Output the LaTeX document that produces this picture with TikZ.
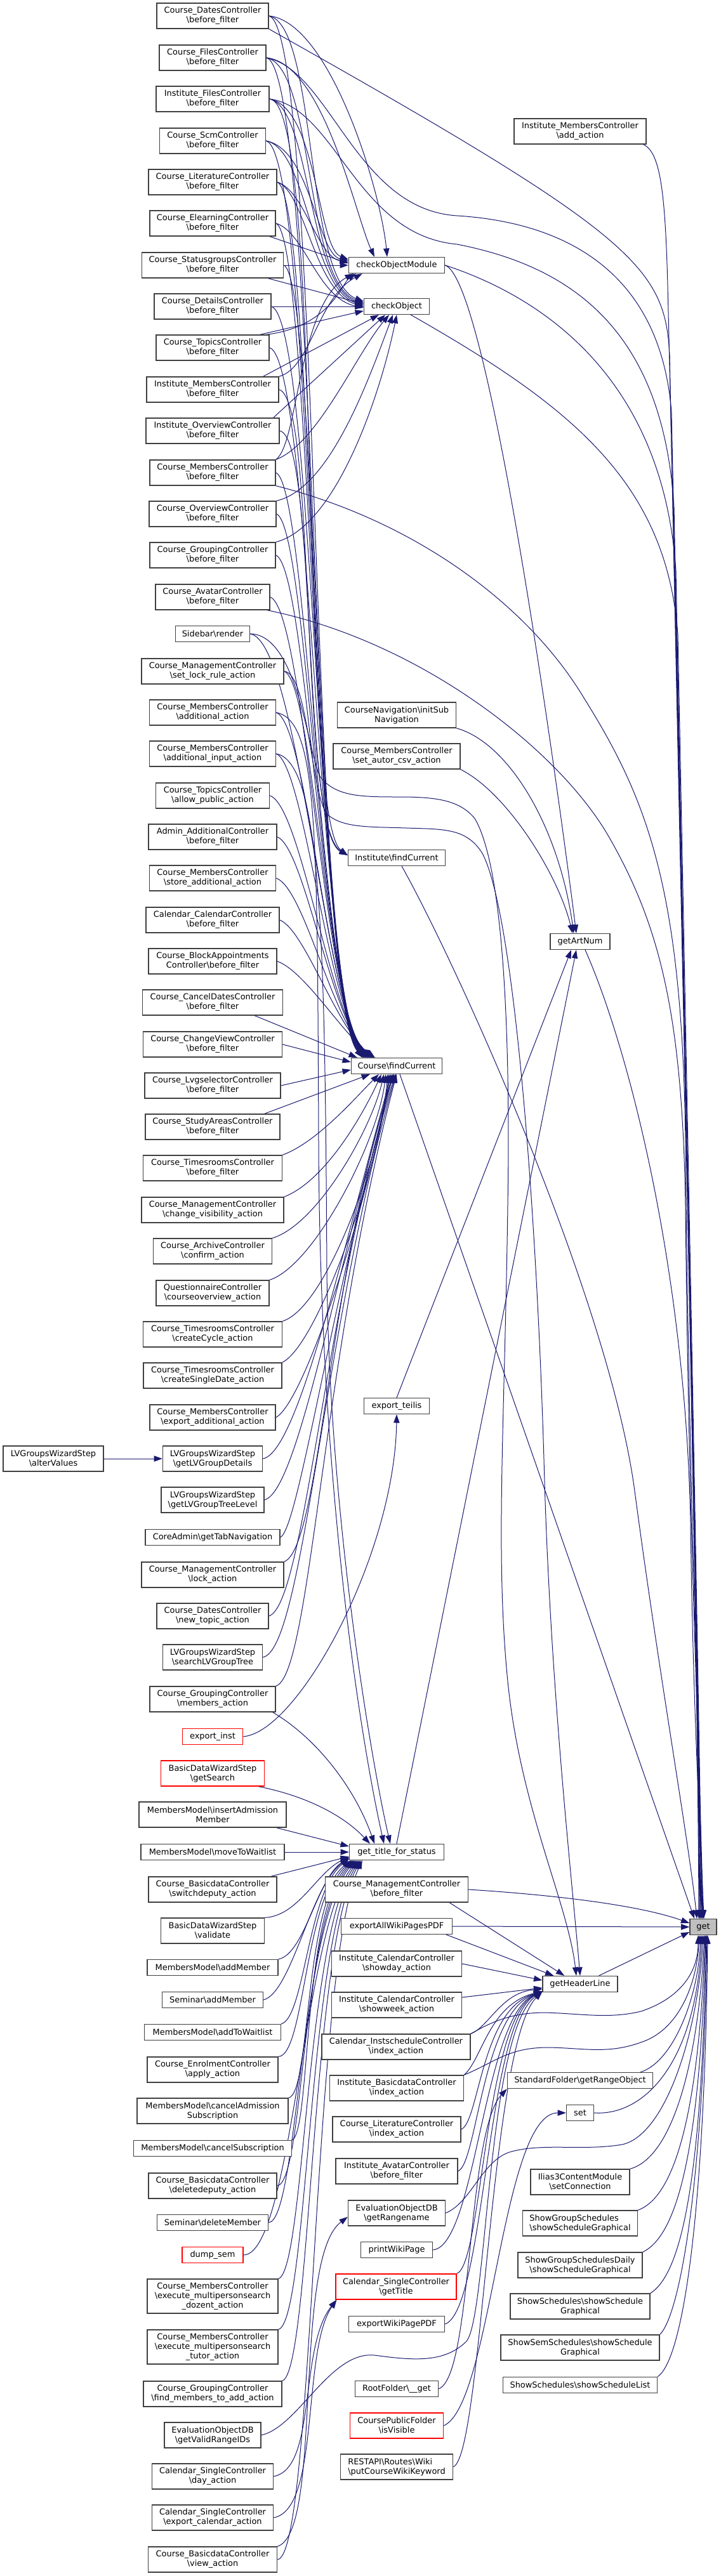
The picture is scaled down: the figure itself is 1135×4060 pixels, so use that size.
\documentclass[tikz,border=0pt]{standalone}
\usepackage{fontspec}
\setmainfont{DejaVu Sans}
\usetikzlibrary{arrows.meta,calc}
\definecolor{edgec}{HTML}{191970}
\definecolor{nodeb}{HTML}{404040}
\definecolor{getf}{HTML}{BFBFBF}
\newcommand\bsl{\textbackslash}
\newcommand\nodefont{\fontsize{9.7pt}{11.3pt}\selectfont}
\pgfdeclarelayer{bg}
\pgfsetlayers{bg,main}
\tikzset{
  box/.style={draw=nodeb, fill=white, line width=1pt, inner sep=0pt, align=center, font=\nodefont, text=black},
  rbox/.style={box, draw=red},
  W/.style={minimum width=#1*0.75pt},
  hone/.style={minimum height=18.75pt},
  htwo/.style={minimum height=30pt},
  hthree/.style={minimum height=40.5pt},
  ed/.style={draw=edgec, line width=0.75pt, -{Triangle[length=10pt,width=7pt]}},
}
\begin{document}
\begin{tikzpicture}[x=0.75pt,y=-0.75pt]
\useasboundingbox (0,0) rectangle (1135,4060);
% ---------- left column ----------
\node[box,W=176,htwo] (L1) at (335,25) {Course\_DatesController\\\bsl before\_filter};
\node[box,W=168,htwo] (L2) at (335,91) {Course\_FilesController\\\bsl before\_filter};
\node[box,W=178,htwo] (L3) at (335,156) {Institute\_FilesController\\\bsl before\_filter};
\node[box,W=167,htwo] (L4) at (335,222) {Course\_ScmController\\\bsl before\_filter};
\node[box,W=202,htwo] (L5) at (335,287) {Course\_LiteratureController\\\bsl before\_filter};
\node[box,W=198,htwo] (L6) at (335,352) {Course\_ElearningController\\\bsl before\_filter};
\node[box,W=223,htwo] (L7) at (335,418) {Course\_StatusgroupsController\\\bsl before\_filter};
\node[box,W=184,htwo] (L8) at (335,483) {Course\_DetailsController\\\bsl before\_filter};
\node[box,W=178,htwo] (L9) at (335,548) {Course\_TopicsController\\\bsl before\_filter};
\node[box,W=208,htwo] (L10) at (335,614) {Institute\_MembersController\\\bsl before\_filter};
\node[box,W=210,htwo] (L11) at (335,679) {Institute\_OverviewController\\\bsl before\_filter};
\node[box,W=198,htwo] (L12) at (335,745) {Course\_MembersController\\\bsl before\_filter};
\node[box,W=200,htwo] (L13) at (335,810) {Course\_OverviewController\\\bsl before\_filter};
\node[box,W=198,htwo] (L14) at (335,875) {Course\_GroupingController\\\bsl before\_filter};
\node[box,W=180,htwo] (L15) at (335,941) {Course\_AvatarController\\\bsl before\_filter};
\node[box,W=117,hone] (L16) at (335,999) {Sidebar\bsl render};
\node[box,W=224,htwo] (L17) at (335,1058) {Course\_ManagementController\\\bsl set\_lock\_rule\_action};
\node[box,W=199,htwo] (L18) at (335,1123) {Course\_MembersController\\\bsl additional\_action};
\node[box,W=199,htwo] (L19) at (335,1188) {Course\_MembersController\\\bsl additional\_input\_action};
\node[box,W=179,htwo] (L20) at (335,1254) {Course\_TopicsController\\\bsl allow\_public\_action};
\node[box,W=202,htwo] (L21) at (335,1319) {Admin\_AdditionalController\\\bsl before\_filter};
\node[box,W=199,htwo] (L22) at (335,1384) {Course\_MembersController\\\bsl store\_additional\_action};
\node[box,W=210,htwo] (L23) at (335,1450) {Calendar\_CalendarController\\\bsl before\_filter};
\node[box,W=202,htwo] (L24) at (335,1515) {Course\_BlockAppointments\\Controller\bsl before\_filter};
\node[box,W=221,htwo] (L25) at (335,1580) {Course\_CancelDatesController\\\bsl before\_filter};
\node[box,W=219,htwo] (L26) at (335,1646) {Course\_ChangeViewController\\\bsl before\_filter};
\node[box,W=214,htwo] (L27) at (335,1711) {Course\_LvgselectorController\\\bsl before\_filter};
\node[box,W=212,htwo] (L28) at (335,1776) {Course\_StudyAreasController\\\bsl before\_filter};
\node[box,W=219,htwo] (L29) at (335,1841) {Course\_TimesroomsController\\\bsl before\_filter};
\node[box,W=224,htwo] (L30) at (335,1907) {Course\_ManagementController\\\bsl change\_visibility\_action};
\node[box,W=187,htwo] (L31) at (335,1972) {Course\_ArchiveController\\\bsl confirm\_action};
\node[box,W=178,htwo] (L32) at (335,2038) {QuestionnaireController\\\bsl courseoverview\_action};
\node[box,W=219,htwo] (L33) at (335,2103) {Course\_TimesroomsController\\\bsl createCycle\_action};
\node[box,W=218,htwo] (L34) at (335,2168) {Course\_TimesroomsController\\\bsl createSingleDate\_action};
\node[box,W=198,htwo] (L35) at (335,2234) {Course\_MembersController\\\bsl export\_additional\_action};
\node[box,W=157,htwo] (L36) at (335,2299) {LVGroupsWizardStep\\\bsl getLVGroupDetails};
\node[box,W=162,htwo] (L37) at (335,2364) {LVGroupsWizardStep\\\bsl getLVGroupTreeLevel};
\node[box,W=212,hone] (L38) at (335,2423) {CoreAdmin\bsl getTabNavigation};
\node[box,W=224,htwo] (L39) at (335,2482) {Course\_ManagementController\\\bsl lock\_action};
\node[box,W=176,htwo] (L40) at (335,2547) {Course\_DatesController\\\bsl new\_topic\_action};
\node[box,W=157,htwo] (L41) at (335,2612) {LVGroupsWizardStep\\\bsl searchLVGroupTree};
\node[box,W=198,htwo] (L42) at (335,2678) {Course\_GroupingController\\\bsl members\_action};
\node[rbox,W=95,hone] (L43) at (335,2737) {export\_inst};
\node[rbox,W=163,htwo] (L44) at (335,2795) {BasicDataWizardStep\\\bsl getSearch};
\node[box,W=232,htwo] (L45) at (335,2860) {MembersModel\bsl insertAdmission\\Member};
\node[box,W=226,hone] (L46) at (335,2919) {MembersModel\bsl moveToWaitlist};
\node[box,W=202,htwo] (L47) at (335,2978) {Course\_BasicdataController\\\bsl switchdeputy\_action};
\node[box,W=163,htwo] (L48) at (335,3043) {BasicDataWizardStep\\\bsl validate};
\node[box,W=206,hone] (L49) at (335,3101) {MembersModel\bsl addMember};
\node[box,W=159,hone] (L50) at (335,3152) {Seminar\bsl addMember};
\node[box,W=215,hone] (L51) at (335,3203) {MembersModel\bsl addToWaitlist};
\node[box,W=206,htwo] (L52) at (335,3262) {Course\_EnrolmentController\\\bsl apply\_action};
\node[box,W=238,htwo] (L53) at (335,3327) {MembersModel\bsl cancelAdmission\\Subscription};
\node[box,W=249,hone] (L54) at (335,3386) {MembersModel\bsl cancelSubscription};
\node[box,W=202,htwo] (L55) at (335,3445) {Course\_BasicdataController\\\bsl deletedeputy\_action};
\node[box,W=175,hone] (L56) at (335,3503) {Seminar\bsl deleteMember};
\node[rbox,W=96,hone] (L57) at (335,3554) {dump\_sem};
\node[box,W=206,hthree] (L58) at (335,3619) {Course\_MembersController\\\bsl execute\_multipersonsearch\\\_dozent\_action};
\node[box,W=206,hthree] (L59) at (335,3699) {Course\_MembersController\\\bsl execute\_multipersonsearch\\\_tutor\_action};
\node[box,W=218,htwo] (L60) at (335,3773) {Course\_GroupingController\\\bsl find\_members\_to\_add\_action};
\node[box,W=152,htwo] (L61) at (335,3838) {EvaluationObjectDB\\\bsl getValidRangeIDs};
\node[box,W=191,htwo] (L62) at (335,3903) {Calendar\_SingleController\\\bsl day\_action};
\node[box,W=191,htwo] (L63) at (335,3968) {Calendar\_SingleController\\\bsl export\_calendar\_action};
\node[box,W=203,htwo] (L64) at (335,4034) {Course\_BasicdataController\\\bsl view\_action};
\node[box,W=158,htwo] (A) at (84,2299) {LVGroupsWizardStep\\\bsl alterValues};
% ---------- middle column ----------
\node[box,W=151,hone] (cOM) at (625,418) {checkObjectModule};
\node[box,W=103,hone] (cO) at (625,483) {checkObject};
\node[box,W=187,htwo] (CNav) at (625,1127) {CourseNavigation\bsl initSub\\Navigation};
\node[box,W=200,htwo] (CSA) at (625,1192) {Course\_MembersController\\\bsl set\_autor\_csv\_action};
\node[box,W=153,hone] (IfC) at (625,1352) {Institute\bsl findCurrent};
\node[box,W=143,hone] (CfC) at (625,1680) {Course\bsl findCurrent};
\node[box,W=103,hone] (eT) at (625,2216) {export\_teilis};
\node[box,W=149,hone] (gT) at (625,2919) {get\_title\_for\_status};
\node[box,W=225,htwo] (CMb) at (625,2978) {Course\_ManagementController\\\bsl before\_filter};
\node[box,W=175,hone] (eAW) at (625,3036) {exportAllWikiPagesPDF};
\node[box,W=205,htwo] (ICd) at (625,3095) {Institute\_CalendarController\\\bsl showday\_action};
\node[box,W=205,htwo] (ICw) at (625,3160) {Institute\_CalendarController\\\bsl showweek\_action};
\node[box,W=234,htwo] (CIs) at (624,3226) {Calendar\_InstscheduleController\\\bsl index\_action};
\node[box,W=211,htwo] (IBi) at (625,3291) {Institute\_BasicdataController\\\bsl index\_action};
\node[box,W=202,htwo] (CLi) at (625,3356) {Course\_LiteratureController\\\bsl index\_action};
\node[box,W=192,htwo] (IAv) at (625,3422) {Institute\_AvatarController\\\bsl before\_filter};
\node[box,W=153,htwo] (EOr) at (625,3488) {EvaluationObjectDB\\\bsl getRangename};
\node[box,W=113,hone] (pWP) at (625,3546) {printWikiPage};
\node[rbox,W=190,htwo] (CSt) at (624,3604) {Calendar\_SingleController\\\bsl getTitle};
\node[box,W=151,hone] (eWP) at (625,3663) {exportWikiPagePDF};
\node[box,W=131,hone] (RFg) at (625,3765) {RootFolder\bsl \_\_get};
\node[rbox,W=147,htwo] (CPF) at (625,3823) {CoursePublicFolder\\\bsl isVisible};
\node[box,W=177,htwo,align=left] (RAP) at (625,3888) {RESTAPI\bsl Routes\bsl Wiki\\\bsl putCourseWikiKeyword};
% ---------- rank 1 ----------
\node[box,W=208,htwo] (IMa) at (914,207) {Institute\_MembersController\\\bsl add\_action};
\node[box,W=94,hone] (gAN) at (914,1484) {getArtNum};
\node[box,W=118,hone] (gHL) at (914,3127) {getHeaderLine};
\node[box,W=229,hone] (SFg) at (914,3279) {StandardFolder\bsl getRangeObject};
\node[box,W=43,hone] (set) at (914,3330) {set};
\node[box,W=156,htwo] (I3C) at (914,3439) {Ilias3ContentModule\\\bsl setConnection};
\node[box,W=181,htwo,align=left] (SGS) at (914,3504) {ShowGroupSchedules\\\bsl showScheduleGraphical};
\node[box,W=196,htwo] (SGD) at (914,3570) {ShowGroupSchedulesDaily\\\bsl showScheduleGraphical};
\node[box,W=220,htwo] (SSG) at (914,3635) {ShowSchedules\bsl showSchedule\\Graphical};
\node[box,W=250,htwo] (SSS) at (914,3700) {ShowSemSchedules\bsl showSchedule\\Graphical};
\node[box,W=243,hone] (SSL) at (914,3759) {ShowSchedules\bsl showScheduleList};
\node[box,W=42,hone,fill=getf] (get) at (1108,3037) {get};

\begin{pgfonlayer}{bg}
\fill[white] (0,0) rectangle (1135,4060);
% ---- to checkObjectModule ----
\draw[ed] (L1.east) .. controls (520,35) and (600,300) .. ($(cOM.north)+(-15,0)$);
\draw[ed] (L2.east) .. controls (510,100) and (560,340) .. ($(cOM.north)+(-35,0)$);
\draw[ed] (L3.east) .. controls (500,170) and (500,390) .. ($(cOM.west)+(0,-9)$);
\draw[ed] (L4.east) .. controls (490,235) and (500,400) .. ($(cOM.west)+(0,-7)$);
\draw[ed] (L5.east) .. controls (480,300) and (500,405) .. ($(cOM.west)+(0,-5)$);
\draw[ed] ($(L6.south east)+(-10,0)$) -- ($(cOM.west)+(0,-3)$);
\draw[ed] (L7.east) -- (cOM.west);
\draw[ed] ($(L9.north east)+(-5,0)$) .. controls (520,515) and (540,445) .. ($(cOM.south west)+(12,0)$);
\draw[ed] (L10.north east) .. controls (490,580) and (500,470) .. ($(cOM.south west)+(22,0)$);
\draw[ed] (L12.north east) .. controls (470,700) and (470,480) .. ($(cOM.south west)+(8,0)$);
% ---- to checkObject ----
\foreach \src/\ax/\ay/\bx/\by/\oo in {L1/500/40/480/440/-8, L2/495/105/480/445/-6, L3/490/170/485/450/-4, L4/485/235/490/455/-2, L5/480/300/495/460/0, L6/480/365/500/470/2}
  {\draw[ed] (\src.east) .. controls (\ax,\ay) and (\bx,\by) .. ($(cO.west)+(0,\oo)$);}
\draw[ed] ($(L7.south east)+(-25,0)$) -- ($(cO.west)+(0,-4)$);
\draw[ed] (L8.east) -- (cO.west);
\draw[ed] ($(L9.north east)+(-15,0)$) -- ($(cO.west)+(0,7)$);
\draw[ed] ($(L10.north east)+(-25,0)$) -- ($(cO.south)+(-28,0)$);
\draw[ed] ($(L11.north east)+(-10,0)$) -- ($(cO.south)+(-18,0)$);
\draw[ed] (L12.north east) .. controls (500,700) and (560,560) .. ($(cO.south)+(-12,0)$);
\draw[ed] (L13.north east) .. controls (520,770) and (580,600) .. ($(cO.south)+(-6,0)$);
\draw[ed] (L14.north east) .. controls (530,830) and (600,620) .. (cO.south);
% ---- to Institute\findCurrent ----
\draw[ed] (L3.east) .. controls (510,160) and (470,1290) .. ($(IfC.west)+(0,-4)$);
\draw[ed] (L10.east) .. controls (500,630) and (470,1300) .. ($(IfC.west)+(0,-4)$);
\draw[ed] (L11.east) .. controls (500,690) and (475,1310) .. ($(IfC.west)+(0,-4)$);
% ---- to Course\findCurrent from above ----
\foreach \src/\ax/\ay/\bx/\by/\oo in {L1/505/45/488/1560/18, L2/500/110/490/1563/19, L4/495/240/492/1566/20, L5/495/305/494/1569/21, L6/490/370/496/1572/22, L7/500/440/498/1575/23, L8/495/505/500/1578/24, L9/490/565/502/1581/25, L12/485/765/504/1584/26, L13/485/830/506/1587/27, L14/485/895/508/1590/28, L15/480/960/510/1593/29, L16/470/1010/512/1596/30, L17/495/1075/514/1599/31, L18/485/1140/516/1602/32, L19/480/1205/518/1605/33, L20/475/1270/520/1608/34, L21/480/1335/522/1611/35, L22/480/1400/524/1614/36, L23/480/1465/530/1620/37, L24/480/1530/540/1630/38}
  {\draw[ed] (\src.east) .. controls (\ax,\ay) and (\bx,\by) .. ($(CfC.north west)+(\oo,0)$);}
\draw[ed] ($(L25.south east)+(-45,0)$) -- ($(CfC.north west)+(10,0)$);
\draw[ed] (L26.east) -- ($(CfC.west)+(0,-6)$);
\draw[ed] (L27.east) -- ($(CfC.west)+(0,6)$);
\draw[ed] ($(L28.north east)+(-25,0)$) -- ($(CfC.south west)+(30,0)$);
% ---- to Course\findCurrent from below ----
\foreach \src/\an/\ax/\ay/\bx/\by/\oo in {L29/north east/500/1800/560/1730/44, L30/north east/515/1860/575/1750/48, L31/north east/500/1930/585/1780/52, L32/north east/495/1995/595/1800/55, L33/north east/515/2060/600/1820/58, L34/north east/500/2120/595/1850/60, L35/east/480/2210/580/1900/62, L36/east/470/2290/545/1950/64, L37/east/470/2350/530/2000/66, L38/east/470/2410/522/2050/67, L39/north east/505/2440/518/2000/68, L40/east/480/2530/512/2050/70, L41/east/478/2600/508/2100/71, L42/north east/490/2640/505/2150/72}
  {\draw[ed] (\src.\an) .. controls (\ax,\ay) and (\bx,\by) .. ($(CfC.south west)+(\oo,0)$);}
% ---- alterValues ----
\draw[ed] (A.east) -- (L36.west);
% ---- export_inst ----
\draw[ed] (L43.east) .. controls (470,2730) and (622,2450) .. (eT.south);
% ---- to get_title_for_status ----
\draw[ed] (L18.east) .. controls (500,1135) and (500,1300) .. (502,1800) .. controls (504,2350) and (570,2750) .. ($(gT.north)+(-20,0)$);
\draw[ed] (L19.east) .. controls (508,1200) and (512,1500) .. (515,2000) .. controls (518,2400) and (590,2800) .. ($(gT.north)+(-10,0)$);
\draw[ed] ($(L42.south east)+(-5,0)$) .. controls (500,2740) and (560,2820) .. ($(gT.north)+(-35,0)$);
\draw[ed] ($(L44.south east)+(-10,0)$) .. controls (480,2830) and (540,2860) .. ($(gT.north)+(-42,0)$);
\draw[ed] ($(L45.south east)+(-16,0)$) -- ($(gT.west)+(0,-9)$);
\draw[ed] (L46.east) -- (gT.west);
\draw[ed] ($(L47.north east)+(-10,0)$) -- ($(gT.west)+(0,7)$);
\foreach \src/\an/\ax/\ay/\bx/\by/\oo in {L48/north east/470/3020/500/2950/8, L49/north east/480/3080/500/2960/9, L50/east/460/3140/490/2970/10, L51/north east/480/3180/485/2980/11}
  {\draw[ed] (\src.\an) .. controls (\ax,\ay) and (\bx,\by) .. ($(gT.west)+(0,\oo)$);}
\foreach \src/\an/\ax/\ay/\bx/\by/\oo in {L52/north east/480/3240/480/2990/3, L53/north east/490/3300/478/3000/5, L54/north east/490/3360/476/3010/7, L55/east/480/3440/474/3020/9, L56/east/470/3500/472/3030/11, L57/east/460/3554/478/3040/13, L58/north east/480/3580/482/3050/15, L59/north east/485/3660/486/3060/17, L60/north east/490/3740/490/3070/19, L64/east/495/4030/492/3100/21}
  {\draw[ed] (\src.\an) .. controls (\ax,\ay) and (\bx,\by) .. ($(gT.south west)+(\oo,0)$);}
% ---- to getArtNum ----
\draw[ed] (cOM.east) .. controls (770,440) and (880,1250) .. ($(gAN.north)+(-6,0)$);
\draw[ed] (CNav.south east) .. controls (800,1170) and (880,1300) .. ($(gAN.north)+(-10,0)$);
\draw[ed] (CSA.south east) .. controls (800,1250) and (880,1380) .. ($(gAN.north)+(-12,0)$);
\draw[ed] (eT.north) -- ($(gAN.south)+(-14,0)$);
\draw[ed] (gT.north) -- ($(gAN.south)+(-6,0)$);
% ---- to get from above ----
\draw[ed] (L1.south east) .. controls (1000,370) and (1048,420) .. (1055,560) .. controls (1070,1300) and (1100,2600) .. ($(get.north)+(-6,0)$);
\draw[ed] (L2.east) .. controls (520,110) and (560,330) .. (720,340) .. controls (880,350) and (1040,420) .. (1058,650) .. controls (1072,1300) and (1100,2600) .. ($(get.north)+(-5,0)$);
\draw[ed] (L3.east) .. controls (530,170) and (560,370) .. (720,385) .. controls (900,420) and (1045,520) .. (1062,800) .. controls (1074,1400) and (1100,2600) .. ($(get.north)+(-4,0)$);
\draw[ed] (cOM.east) .. controls (860,470) and (1045,600) .. (1065,900) .. controls (1076,1500) and (1100,2600) .. ($(get.north)+(-3,0)$);
\draw[ed] ($(cO.south east)+(-30,0)$) .. controls (900,640) and (1050,760) .. (1068,1000) .. controls (1078,1500) and (1100,2600) .. ($(get.north)+(-2,0)$);
\draw[ed] ($(IMa.south east)+(-5,0)$) .. controls (1040,240) and (1048,300) .. (1052,450) .. controls (1070,1200) and (1100,2600) .. ($(get.north)+(-7,0)$);
\draw[ed] (L12.south east) .. controls (650,820) and (830,950) .. (920,1100) .. controls (1020,1260) and (1075,1400) .. (1080,1800) .. controls (1085,2300) and (1100,2700) .. ($(get.north)+(-1,0)$);
\draw[ed] ($(L15.south east)+(-5,0)$) .. controls (660,1010) and (880,1180) .. (960,1320) .. controls (1040,1460) and (1075,1600) .. (1080,1900) .. controls (1085,2400) and (1100,2700) .. (get.north);
\draw[ed] ($(gAN.south)+(8,0)$) .. controls (990,1650) and (1080,2000) .. (1088,2400) .. controls (1092,2700) and (1104,2900) .. ($(get.north)+(1,0)$);
\draw[ed] ($(IfC.south)+(8,0)$) .. controls (720,1520) and (960,2050) .. (1000,2350) .. controls (1040,2650) and (1085,2900) .. ($(get.north)+(-10,0)$);
\draw[ed] ($(CfC.south)+(5,0)$) -- ($(get.north)+(-14,0)$);
% ---- to get from left / below ----
\draw[ed] (CMb.east) .. controls (850,2985) and (1000,3000) .. ($(get.west)+(0,-6)$);
\draw[ed] (eAW.east) -- (get.west);
\draw[ed] ($(gHL.north east)+(-30,0)$) -- ($(get.west)+(0,8)$);
\draw[ed] (CIs.north east) .. controls (770,3190) and (800,3172) .. (860,3172) .. controls (920,3174) and (960,3182) .. (1010,3170) .. controls (1070,3150) and (1100,3110) .. ($(get.south)+(-8,0)$);
\draw[ed] (IBi.north east) .. controls (780,3250) and (800,3228) .. (860,3227) .. controls (920,3227) and (960,3240) .. (1020,3215) .. controls (1075,3190) and (1098,3120) .. ($(get.south)+(-6,0)$);
\draw[ed] ($(SFg.north east)+(-20,0)$) .. controls (1060,3250) and (1100,3150) .. ($(get.south)+(-4,0)$);
\draw[ed] (set.east) .. controls (1010,3335) and (1095,3260) .. ($(get.south)+(-2,0)$);
\draw[ed] (EOr.east) .. controls (745,3470) and (760,3400) .. (810,3390) .. controls (860,3378) and (920,3390) .. (980,3380) .. controls (1050,3365) and (1100,3200) .. (get.south);
\foreach \src/\an/\ax/\ay/\bx/\by/\oo in {I3C/north east/1060/3400/1100/3250/2, SGS/north east/1070/3460/1102/3300/3, SGD/north east/1075/3520/1104/3350/4, SSG/north east/1080/3580/1106/3400/5, SSS/north east/1070/3650/1108/3450/6, SSL/north east/1075/3720/1110/3500/7}
  {\draw[ed] (\src.\an) .. controls (\ax,\ay) and (\bx,\by) .. ($(get.south)+(\oo,0)$);}
% ---- to getHeaderLine ----
\draw[ed] ($(CMb.south east)+(-30,0)$) -- ($(gHL.north west)+(35,0)$);
\draw[ed] ($(eAW.south east)+(-10,0)$) -- ($(gHL.north west)+(18,0)$);
\draw[ed] (L16.east) .. controls (470,1000) and (485,1190) .. (505,1225) .. controls (530,1256) and (570,1256) .. (630,1256) .. controls (690,1256) and (725,1262) .. (748,1290) .. controls (790,1360) and (805,1600) .. (800,1900) .. controls (795,2250) and (780,2450) .. (800,2650) .. controls (820,2850) and (895,3000) .. ($(gHL.north)+(-6,0)$);
\draw[ed] (L17.east) .. controls (485,1060) and (490,1250) .. (515,1283) .. controls (540,1305) and (580,1303) .. (640,1305) .. controls (700,1307) and (735,1305) .. (760,1345) .. controls (810,1440) and (845,1900) .. (857,2300) .. controls (866,2650) and (900,2950) .. (gHL.north);
\draw[ed] (ICd.east) -- ($(gHL.west)+(0,-6)$);
\draw[ed] ($(ICw.east)+(0,-12)$) -- ($(gHL.west)+(0,6)$);
\draw[ed] (CIs.north east) .. controls (770,3195) and (790,3140) .. ($(gHL.west)+(0,8)$);
\draw[ed] (IBi.north east) .. controls (760,3245) and (770,3160) .. ($(gHL.south west)+(0,-2)$);
\foreach \src/\an/\ax/\ay/\bx/\by in {CLi/east/755/3345/758/3165, IAv/east/752/3410/760/3170, pWP/east/750/3540/762/3175, CSt/north east/760/3570/764/3180, eWP/east/765/3640/766/3185}
  {\draw[ed] (\src.\an) .. controls (\ax,\ay) and (\bx,\by) .. ($(gHL.south west)+(0,-1)$);}
\draw[ed] (L61.east) .. controls (470,3825) and (520,3705) .. (590,3712) .. controls (650,3720) and (700,3725) .. (735,3690) .. controls (768,3650) and (768,3200) .. ($(gHL.south west)+(0,-1)$);
\draw[ed] (RAP.east) .. controls (760,3870) and (772,3220) .. ($(gHL.south west)+(0,-1)$);
% ---- others ----
\draw[ed] (RFg.east) .. controls (745,3745) and (735,3360) .. (SFg.south west);
\draw[ed] (CPF.east) .. controls (775,3790) and (790,3330) .. (set.west);
\draw[ed] (L62.east) .. controls (500,3890) and (470,3700) .. ($(CSt.south west)+(2,0)$);
\draw[ed] (L63.east) .. controls (505,3955) and (475,3705) .. ($(CSt.south west)+(2,0)$);
\draw[ed] (L64.north east) .. controls (510,3990) and (460,3560) .. ($(EOr.west)+(0,6)$);
\end{pgfonlayer}
\end{tikzpicture}
\end{document}
